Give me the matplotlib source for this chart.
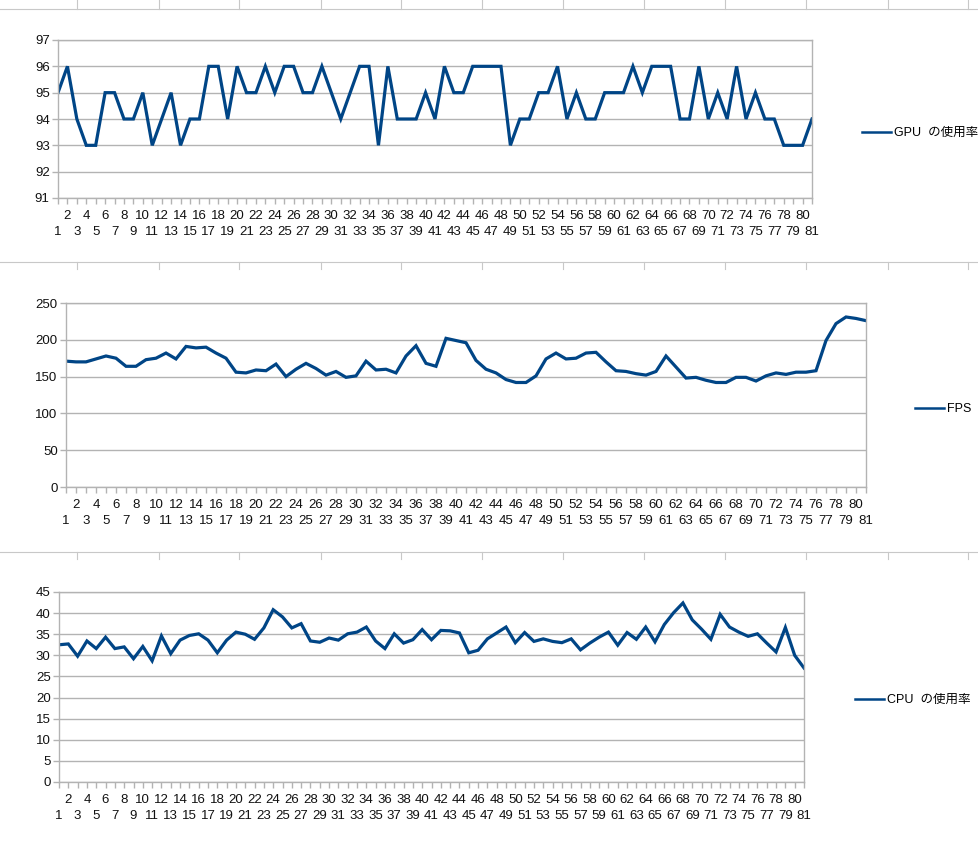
import matplotlib
matplotlib.use("Agg")
import matplotlib.pyplot as plt
from matplotlib.lines import Line2D

W, H = 979, 842

frames = list(range(1, 82))

gpu = [95, 96, 94, 93, 93, 95, 95, 94, 94, 95, 93, 94, 95, 93, 94, 94, 96, 96, 94, 96,
       95, 95, 96, 95, 96, 96, 95, 95, 96, 95, 94, 95, 96, 96, 93, 96, 94, 94, 94, 95,
       94, 96, 95, 95, 96, 96, 96, 96, 93, 94, 94, 95, 95, 96, 94, 95, 94, 94, 95, 95,
       95, 96, 95, 96, 96, 96, 94, 94, 96, 94, 95, 94, 96, 94, 95, 94, 94, 93, 93, 93,
       94]

fps = [171, 170, 170, 174, 178, 175, 164, 164, 173, 175, 182, 174, 191, 189, 190, 182,
       175, 156, 155, 159, 158, 167, 150, 160, 168, 161, 152, 157, 149, 151, 171, 159,
       160, 155, 178, 192, 168, 164, 202, 199, 196, 172, 160, 155, 146, 142, 142, 151,
       174, 182, 174, 175, 182, 183, 170, 158, 157, 154, 152, 157, 178, 163, 148, 149,
       145, 142, 142, 149, 149, 144, 151, 155, 153, 156, 156, 158, 199, 222, 231, 229,
       226]

cpu = [32.5, 32.7, 29.8, 33.4, 31.6, 34.3, 31.6, 32.0, 29.2, 32.1, 28.7, 34.6, 30.4,
       33.6, 34.7, 35.1, 33.6, 30.6, 33.6, 35.5, 35.0, 33.8, 36.5, 40.8, 39.1, 36.5,
       37.5, 33.4, 33.1, 34.1, 33.6, 35.1, 35.5, 36.7, 33.4, 31.6, 35.1, 32.9, 33.7,
       36.1, 33.7, 35.9, 35.8, 35.3, 30.6, 31.2, 33.9, 35.3, 36.7, 33.0, 35.4, 33.3,
       33.9, 33.3, 33.0, 33.9, 31.3, 32.9, 34.3, 35.5, 32.4, 35.4, 33.8, 36.7, 33.2,
       37.3, 40.1, 42.4, 38.4, 36.2, 33.8, 39.7, 36.7, 35.5, 34.5, 35.1, 32.9, 30.8,
       36.6, 30.0, 27.0]

gpu_ticks = [91, 92, 93, 94, 95, 96, 97]
fps_ticks = [0, 50, 100, 150, 200, 250]
cpu_ticks = [0, 5, 10, 15, 20, 25, 30, 35, 40, 45]

labels = ["GPU  の使用率", "FPS", "CPU  の使用率"]

LINE = "#004586"
GRID = "#b3b3b3"
FONT = ["Liberation Sans", "Noto Sans CJK JP", "DejaVu Sans"]
plt.rcParams["font.family"] = FONT
plt.rcParams["font.size"] = 9

fig = plt.figure(figsize=(W / 100, H / 100), dpi=100)


def px_axes(left, top, right, bottom):
    return fig.add_axes([left / W, 1 - bottom / H, (right - left) / W, (bottom - top) / H])


def draw(ax, values, yticks, label, leg_x, leg_y):
    ax.plot(frames, values, color=LINE, lw=2.3, label=label, solid_joinstyle="miter")
    ax.set_xlim(1, 81)
    ax.set_ylim(yticks[0], yticks[-1])
    ax.set_yticks(yticks)
    # odd frames on the lower row (major), even frames on the upper row (minor)
    odd = [f for f in frames if f % 2 == 1]
    even = [f for f in frames if f % 2 == 0]
    ax.set_xticks(odd)
    ax.set_xticklabels([str(f) for f in odd])
    ax.set_xticks(even, minor=True)
    ax.set_xticklabels([str(f) for f in even], minor=True)
    ax.grid(axis="y", color=GRID, lw=1)
    ax.set_axisbelow(True)
    for s in ax.spines.values():
        s.set_color(GRID)
        s.set_linewidth(1)
    ax.tick_params(axis="both", which="both", color=GRID, length=4, width=1,
                   labelcolor="#111111", labelsize=9.5)
    ax.tick_params(axis="x", which="minor", pad=4.5)
    ax.tick_params(axis="x", which="major", pad=16)
    ax.tick_params(axis="y", pad=2)
    leg = ax.legend(loc="center left", bbox_to_anchor=(leg_x / W, 1 - leg_y / H),
                    bbox_transform=fig.transFigure, frameon=False, borderpad=0,
                    borderaxespad=0, handlelength=2.3, handletextpad=0.25, fontsize=9)
    for ln in leg.get_lines():
        ln.set_linewidth(1.8)


ax1 = px_axes(58, 40, 812, 198)
draw(ax1, gpu, gpu_ticks, labels[0], 862, 133)

ax2 = px_axes(66, 303, 866, 487)
draw(ax2, fps, fps_ticks, labels[1], 915, 409)

ax3 = px_axes(59, 592, 804, 782)
draw(ax3, cpu, cpu_ticks, labels[2], 855, 700)

# spreadsheet cell borders behind the charts
sheet = "#c8c8c8"


def hline(y):
    fig.add_artist(Line2D([0, 1], [1 - y / H, 1 - y / H], color=sheet, lw=0.8))


def vtick(x, y0, y1):
    fig.add_artist(Line2D([x / W, x / W], [1 - y0 / H, 1 - y1 / H], color=sheet, lw=0.8))


hline(9)
for i in range(12):
    vtick(77.5 + i * 81, 0, 9)
hline(262)
for i in range(12):
    vtick(77.5 + i * 81, 262, 269)
hline(552)
for i in range(12):
    vtick(77.5 + i * 81, 552, 559)

fig.savefig("out.png", dpi=100)
